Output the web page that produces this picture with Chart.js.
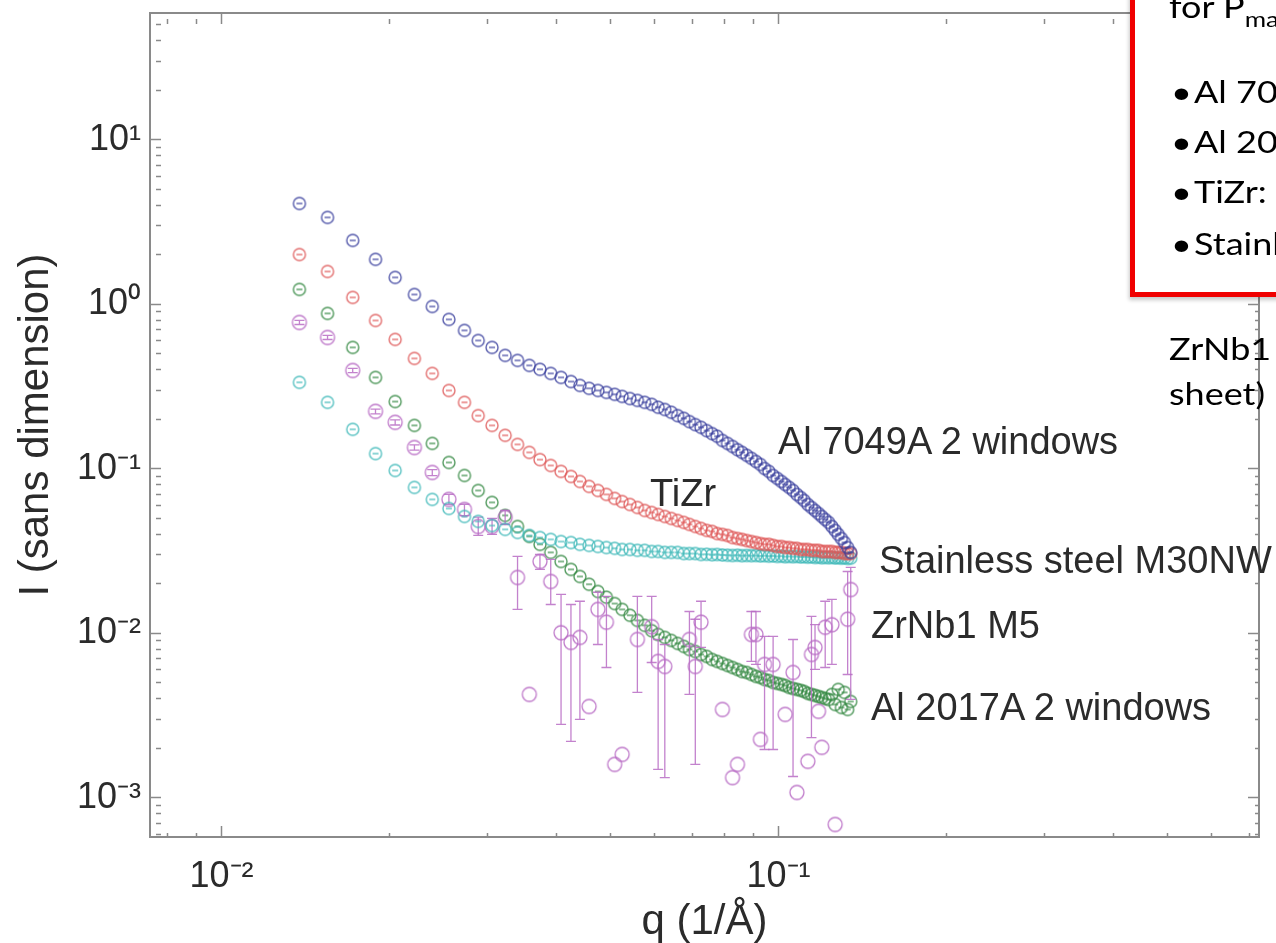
<!DOCTYPE html>
<html>
<head>
<meta charset="utf-8">
<script src="https://cdn.jsdelivr.net/npm/chart.js@4/dist/chart.umd.min.js"></script>
<style>
html,body{margin:0;padding:0;background:#fff;overflow:hidden;}
#wrap{position:relative;width:1276px;height:943px;overflow:hidden;background:#fff;}
#c{position:absolute;left:0;top:0;}
.ann{position:absolute;font-family:'Liberation Sans',Arial,sans-serif;font-size:38px;line-height:38px;color:#2b2b2b;white-space:nowrap;}
#box{position:absolute;left:1130px;top:-10px;width:220px;height:307px;border:5px solid #f00000;background:#fff;box-sizing:border-box;box-shadow:-1px 3px 4px rgba(0,0,0,0.22);}
.bt{position:absolute;font-family:Lato,'Open Sans',sans-serif;font-size:36px;line-height:36px;color:#000;white-space:nowrap;transform:scaleY(0.85);transform-origin:0 32px;}
.bt sub{font-size:26px;vertical-align:-11px;line-height:0;}
</style>
</head>
<body>
<div id="wrap">
<canvas id="c" width="1276" height="943" style="width:1276px;height:943px"></canvas>

<div class="ann" style="left:778px;top:422px">Al 7049A 2 windows</div>
<div class="ann" style="left:650px;top:474px">TiZr</div>
<div class="ann" style="left:879px;top:541px">Stainless steel M30NW</div>
<div class="ann" style="left:871px;top:606px">ZrNb1 M5</div>
<div class="ann" style="left:871px;top:688px">Al 2017A 2 windows</div>

<div id="box"></div>
<div class="bt" style="left:1169px;top:-14px">for P<sub>max</sub></div>
<div class="bt" style="left:1171px;top:71px">•</div><div class="bt" style="left:1194px;top:71px">Al 7049A</div>
<div class="bt" style="left:1171px;top:121px">•</div><div class="bt" style="left:1194px;top:121px">Al 2017A</div>
<div class="bt" style="left:1171px;top:171px">•</div><div class="bt" style="left:1194px;top:171px">TiZr:</div>
<div class="bt" style="left:1171px;top:223px">•</div><div class="bt" style="left:1194px;top:223px">Stainless</div>
<div class="bt" style="left:1169px;top:328px">ZrNb1 M5</div>
<div class="bt" style="left:1169px;top:373px">sheet)</div>
</div>

<script>
// ---------- data ----------
const q = [
0.0138, 0.0155, 0.0172, 0.0189, 0.0205, 0.0222, 0.0239, 0.0256, 0.0273, 0.0289,
0.0306, 0.0323, 0.0340, 0.0357, 0.0373, 0.0390, 0.0407, 0.0424, 0.0440, 0.0457,
0.0474, 0.0491, 0.0508, 0.0524, 0.0541, 0.0558, 0.0575, 0.0592, 0.0608, 0.0625,
0.0642, 0.0659, 0.0676, 0.0692, 0.0709, 0.0726, 0.0743, 0.0760, 0.0776, 0.0793,
0.0810, 0.0827, 0.0844, 0.0860, 0.0877, 0.0894, 0.0911, 0.0928, 0.0944, 0.0961,
0.0978, 0.0995, 0.1012, 0.1028, 0.1045, 0.1062, 0.1079, 0.1096, 0.1112, 0.1129,
0.1146, 0.1163, 0.1180, 0.1196, 0.1213, 0.1230, 0.1247, 0.1264, 0.1280, 0.1297,
0.1314, 0.1331, 0.1348
];

const al7049A = [
4.11, 3.38, 2.45, 1.88, 1.46, 1.15, 0.972, 0.811, 0.695, 0.604,
0.548, 0.490, 0.457, 0.426, 0.403, 0.381, 0.360, 0.340, 0.322, 0.309,
0.300, 0.292, 0.284, 0.276, 0.268, 0.261, 0.254, 0.247, 0.237, 0.230,
0.221, 0.211, 0.203, 0.194, 0.186, 0.179, 0.171, 0.164, 0.158, 0.149,
0.143, 0.137, 0.131, 0.126, 0.121, 0.116, 0.111, 0.1065, 0.1007, 0.0966,
0.0913, 0.0876, 0.0839, 0.0805, 0.0772, 0.0740, 0.0700, 0.0671, 0.0643, 0.0608,
0.0583, 0.0559, 0.0536, 0.0514, 0.0493, 0.0473, 0.0447, 0.0423, 0.0400, 0.0378,
0.0357, 0.0333, 0.0311
];

const tiZr = [
2.01, 1.587, 1.103, 0.799, 0.613, 0.470, 0.381, 0.300, 0.254, 0.211,
0.184, 0.160, 0.141, 0.126, 0.114, 0.105, 0.0966, 0.0900, 0.0839, 0.0783,
0.0740, 0.0700, 0.0662, 0.0634, 0.0608, 0.0583, 0.0559, 0.0544, 0.0529, 0.0514,
0.0500, 0.0486, 0.0473, 0.0460, 0.0447, 0.0435, 0.0423, 0.0417, 0.0405, 0.0400,
0.0394, 0.0383, 0.0378, 0.0373, 0.0367, 0.0362, 0.0357, 0.0352, 0.0348, 0.0348,
0.0343, 0.0338, 0.0338, 0.0333, 0.0333, 0.0329, 0.0329, 0.0324, 0.0324, 0.0324,
0.0320, 0.0320, 0.0320, 0.0315, 0.0315, 0.0315, 0.0315, 0.0311, 0.0311, 0.0311,
0.0306, 0.0306, 0.0306
];

const al2017A = [
1.234, 0.882, 0.548, 0.360, 0.257, 0.184, 0.143, 0.1095, 0.0913, 0.0740,
0.0626, 0.0522, 0.0447, 0.0389, 0.0348, 0.0311, 0.0274, 0.0245, 0.0222, 0.0199,
0.0180, 0.0166, 0.0152, 0.0140, 0.0129, 0.0120, 0.0112, 0.0104, 0.00986, 0.00946,
0.00907, 0.00870, 0.00834, 0.00799, 0.00777, 0.00745, 0.00725, 0.00695, 0.00676, 0.00657,
0.00639, 0.00621, 0.00604, 0.00587, 0.00579, 0.00563, 0.00548, 0.00540, 0.00525, 0.00518,
0.00504, 0.00497, 0.00490, 0.00483, 0.00470, 0.00463, 0.00457, 0.00451, 0.00444, 0.00432,
0.00426, 0.00420, 0.00414, 0.00408, 0.00402, 0.00397, 0.00426, 0.00370, 0.00457, 0.00355,
0.00438, 0.00345, 0.00386
];

const steelM30NW = [
0.336, 0.254, 0.174, 0.124, 0.0979, 0.0772, 0.0653, 0.0575, 0.0514, 0.0480,
0.0453, 0.0429, 0.0411, 0.0394, 0.0383, 0.0373, 0.0362, 0.0357, 0.0348, 0.0343,
0.0338, 0.0333, 0.0329, 0.0324, 0.0324, 0.0320, 0.0320, 0.0315, 0.0315, 0.0311,
0.0311, 0.0311, 0.0306, 0.0306, 0.0306, 0.0302, 0.0303, 0.0301, 0.0302, 0.0300,
0.0299, 0.0298, 0.0299, 0.0297, 0.0298, 0.0297, 0.0298, 0.0296, 0.0297, 0.0295,
0.0296, 0.0294, 0.0295, 0.0293, 0.0294, 0.0293, 0.0294, 0.0292, 0.0293, 0.0291,
0.0292, 0.0290, 0.0291, 0.0289, 0.0290, 0.0289, 0.0290, 0.0288, 0.0289, 0.0287,
0.0288, 0.0286, 0.0287
];

const zrNb1 = [
0.777, 0.630, 0.397, 0.224, 0.192, 0.135, 0.0952, 0.0653, 0.0567, 0.0447,
0.0447, 0.0507, 0.0219, 0.00426, 0.0274, 0.0207, 0.0101, 0.00882, 0.00946, 0.00360,
0.0140, 0.0117, 0.00160, 0.00184, null, 0.00919, null, 0.0110, 0.00676, 0.00630,
null, null, null, 0.00919, 0.00630, 0.0117, null, null, null, 0.00345,
null, 0.00133, 0.00160, null, null, 0.00986, 0.00986, 0.00227, 0.00648, null,
0.00648, null, null, 0.00322, null, 0.00579, 0.00108, null, null, 0.00167,
0.00745, 0.00822, 0.00336, 0.00203, 0.0109, null, 0.0113, 0.00069, null, null,
null, 0.0122, 0.0185
];
const zrNb1Low = [
0.755, 0.612, 0.385, 0.216, 0.185, 0.130, 0.091, 0.061, 0.052, 0.0395,
0.0400, 0.046, 0.0140, null, 0.0245, 0.0150, 0.00280, 0.00221, 0.00300, null,
0.00857, 0.00621, null, null, null, 0.00438, null, 0.00666, 0.00149, 0.00133,
null, null, null, 0.00426, 0.00160, 0.00822, null, null, null, null,
null, null, null, null, null, 0.00676, 0.00648, null, 0.00197, null,
0.00197, null, null, null, null, 0.00135, null, null, null, null,
0.00233, 0.00604, null, null, 0.00621, null, 0.00648, null, null, null,
null, 0.00563, 0.00397
];
const zrNb1High = [
0.800, 0.648, 0.409, 0.231, 0.199, 0.140, 0.099, 0.070, 0.061, 0.0510,
0.0500, 0.056, 0.0294, null, 0.0302, 0.0282, 0.0173, 0.0150, 0.0157, null,
0.0178, 0.0168, null, null, null, 0.0168, null, 0.0168, 0.00919, 0.00857,
null, null, null, 0.0136, 0.0122, 0.0157, null, null, null, null,
null, null, null, null, null, 0.0136, 0.0136, null, 0.00959, null,
0.00959, null, null, null, null, 0.00919, null, null, null, null,
0.0127, 0.0113, null, null, 0.0157, null, 0.0161, null, null, null,
null, 0.0238, 0.0252
];

const xRange = [0.00744, 0.729];
const yRange = [0.000579, 59.1];
const xMajorTicks = [0.01, 0.1];
const xTickLabels = ['10⁻²', '10⁻¹'];
const xMinorTicks = [0.008, 0.009, 0.02, 0.03, 0.04, 0.05, 0.06, 0.07, 0.08, 0.09, 0.2, 0.3, 0.4, 0.5, 0.6, 0.7];
const yMajorTicks = [0.001, 0.01, 0.1, 1, 10];
const yTickLabels = ['10⁻³', '10⁻²', '10⁻¹', '10⁰', '10¹'];
const yMinorTicks = [0.0006, 0.0007, 0.0008, 0.0009,
  0.002, 0.003, 0.004, 0.005, 0.006, 0.007, 0.008, 0.009,
  0.02, 0.03, 0.04, 0.05, 0.06, 0.07, 0.08, 0.09,
  0.2, 0.3, 0.4, 0.5, 0.6, 0.7, 0.8, 0.9,
  2, 3, 4, 5, 6, 7, 8, 9, 20, 30, 40, 50];

// ---------- styling helpers ----------
const FONT = "'Liberation Sans', Arial, Helvetica, sans-serif";
const AXIS = '#8a8a8a';
const TEXT = '#2b2b2b';

function ring(color, r, lw, dash) {
  const c = document.createElement('canvas');
  const s = Math.ceil(2 * r + lw + 2);
  c.width = c.height = s;
  const g = c.getContext('2d');
  g.strokeStyle = color; g.lineWidth = lw;
  g.beginPath(); g.arc(s / 2, s / 2, r, 0, Math.PI * 2); g.stroke();
  if (dash) {
    g.beginPath(); g.moveTo(s / 2 - dash, s / 2); g.lineTo(s / 2 + dash, s / 2); g.stroke();
  }
  return c;
}

function series(ys, lo, hi) {
  const out = [];
  q.forEach((x, i) => {
    if (ys[i] == null) return;
    const p = { x, y: ys[i] };
    if (lo) { p.lo = lo[i]; p.hi = hi[i]; }
    out.push(p);
  });
  return out;
}

const errorBars = {
  id: 'errorBars',
  afterDatasetDraw(chart, args) {
    const ds = chart.data.datasets[args.index];
    if (!ds.errorBars) return;
    const { ctx, chartArea: a } = chart;
    const yS = chart.scales.y;
    ctx.save();
    ctx.beginPath(); ctx.rect(a.left, a.top, a.right - a.left, a.bottom - a.top); ctx.clip();
    ctx.strokeStyle = ds.errorBars.color;
    ctx.lineWidth = ds.errorBars.width;
    const cap = ds.errorBars.cap;
    args.meta.data.forEach((el, i) => {
      const d = ds.data[i];
      if (d.lo == null || d.hi == null) return;
      const x = el.x;
      const y1 = yS.getPixelForValue(d.lo), y2 = yS.getPixelForValue(d.hi);
      ctx.beginPath();
      ctx.moveTo(x, y1); ctx.lineTo(x, y2);
      ctx.moveTo(x - cap, y1); ctx.lineTo(x + cap, y1);
      ctx.moveTo(x - cap, y2); ctx.lineTo(x + cap, y2);
      ctx.stroke();
    });
    ctx.restore();
  }
};

function logAxis(opts) {
  const { position, range, majors, minors, labels, showLabels, size, title, tickPad } = opts;
  const all = majors.concat(minors).sort((a, b) => a - b);
  const horizontal = position === 'top' || position === 'bottom';
  return {
    type: 'logarithmic',
    position,
    min: range[0], max: range[1],
    bounds: 'data',
    afterBuildTicks: s => { s.ticks = all.map(v => ({ value: v, major: majors.includes(v) })); },
    afterFit: s => {
      if (horizontal) s.height = size; else s.width = size;
      s.paddingTop = 0; s.paddingBottom = 0; s.paddingLeft = 0; s.paddingRight = 0;
    },
    grid: {
      display: true, drawOnChartArea: false, drawTicks: true,
      tickLength: -11, tickWidth: 1.5, tickColor: AXIS,
      tickBorderDash: c => (c.tick && majors.includes(c.tick.value)) ? [] : [5, 40]
    },
    border: { display: true, color: AXIS, width: 2 },
    ticks: {
      display: showLabels, autoSkip: false, maxRotation: 0, minRotation: 0,
      padding: tickPad || 0, color: TEXT,
      font: { family: FONT, size: 36, lineHeight: 1 },
      callback: v => { const k = majors.indexOf(v); return k >= 0 ? labels[k] : ''; }
    },
    title: title || { display: false }
  };
}

const blueStyle = ring('rgba(58,64,158,0.85)', 6, 1.4, 3);
const redStyle = ring('rgba(222,88,88,0.85)', 6, 1.4, 3);
const greenStyle = ring('rgba(52,136,66,0.85)', 6, 1.4, 3);
const cyanStyle = ring('rgba(62,184,184,0.85)', 6, 1.4, 3);
const purpleStyle = ring('rgba(184,108,196,0.9)', 7, 1.3, 0);

Chart.defaults.font.family = FONT;

new Chart(document.getElementById('c'), {
  type: 'scatter',
  data: {
    datasets: [
      { label: 'Al 7049A 2 windows', data: series(al7049A), pointStyle: blueStyle, pointRadius: 6 },
      { label: 'TiZr', data: series(tiZr), pointStyle: redStyle, pointRadius: 6 },
      { label: 'Stainless steel M30NW', data: series(steelM30NW), pointStyle: cyanStyle, pointRadius: 6 },
      { label: 'ZrNb1 M5', data: series(zrNb1, zrNb1Low, zrNb1High), pointStyle: purpleStyle, pointRadius: 7,
        errorBars: { color: 'rgba(184,108,196,0.85)', width: 1.3, cap: 5 } },
      { label: 'Al 2017A 2 windows', data: series(al2017A), pointStyle: greenStyle, pointRadius: 6 }
    ]
  },
  options: {
    responsive: false,
    animation: false,
    devicePixelRatio: 1,
    layout: { padding: { top: 13, right: 17, bottom: 0, left: 0 } },
    plugins: { legend: { display: false }, tooltip: { enabled: false } },
    events: [],
    scales: {
      x: logAxis({ position: 'bottom', range: xRange, majors: xMajorTicks, minors: xMinorTicks,
        labels: xTickLabels, showLabels: true, size: 106, tickPad: 33,
        title: { display: true, text: 'q (1/Å)', color: TEXT, font: { family: FONT, size: 42, lineHeight: 1 }, padding: { top: 0, bottom: 0 } } }),
      y: logAxis({ position: 'left', range: yRange, majors: yMajorTicks, minors: yMinorTicks,
        labels: yTickLabels, showLabels: true, size: 150, tickPad: 20,
        title: { display: true, text: 'I (sans dimension)', color: TEXT, font: { family: FONT, size: 42, lineHeight: 1 }, padding: { top: 15, bottom: 0 } } }),
      x2: logAxis({ position: 'top', range: xRange, majors: xMajorTicks, minors: xMinorTicks,
        labels: xTickLabels, showLabels: false, size: 0 }),
      y2: logAxis({ position: 'right', range: yRange, majors: yMajorTicks, minors: yMinorTicks,
        labels: yTickLabels, showLabels: false, size: 0 })
    }
  },
  plugins: [errorBars]
});
</script>
</body>
</html>
